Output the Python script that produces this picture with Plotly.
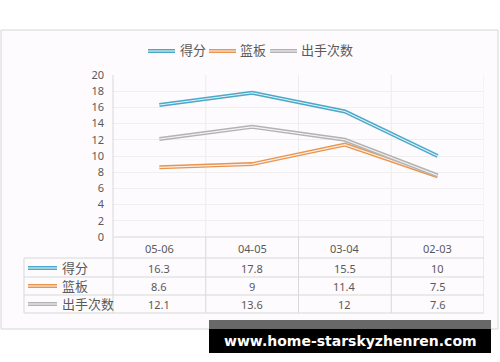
import plotly.graph_objects as go

categories = ["05-06", "04-05", "03-04", "02-03"]
series_names = ["得分", "篮板", "出手次数"]
score = [16.3, 17.8, 15.5, 10]
rebounds = [8.6, 9, 11.4, 7.5]
shots = [12.1, 13.6, 12, 7.6]
y_ticks = list(range(0, 21, 2))

series_values = [score, rebounds, shots]
colors = ["#4aa8c9", "#e8954f", "#b3b3b3"]

W, H = 500, 362
L, R, T, B = 113, 484, 75, 237


def px(x):
    return (x - L) / (R - L)


def py(y):
    return (B - y) / (B - T)


fig = go.Figure()
for name, vals, col in zip(series_names, series_values, colors):
    fig.add_trace(go.Scatter(x=categories, y=vals, mode="lines", name=name,
                             line=dict(color=col, width=4), showlegend=False,
                             hoverinfo="skip"))
    fig.add_trace(go.Scatter(x=categories, y=vals, mode="lines", name=name,
                             line=dict(color="rgba(255,255,255,0.85)", width=1.1),
                             showlegend=False))

shapes = []
annotations = []
FONT = "Noto Sans, Noto Sans CJK SC, sans-serif"
TXT = "#595959"

# outer frame
shapes.append(dict(type="rect", xref="paper", yref="paper", layer="below",
                   x0=px(1), x1=px(498), y0=py(30), y1=py(329),
                   line=dict(color="#d6d6d6", width=1), fillcolor="#fdfbfd"))

# vertical separators in plot area (faint) and table
for i in range(len(categories)):
    xv = i + 0.5
    shapes.append(dict(type="line", xref="x", yref="paper", x0=xv, x1=xv,
                       y0=1, y1=0, line=dict(color="#ececec", width=1), layer="below"))
    shapes.append(dict(type="line", xref="x", yref="paper", x0=xv, x1=xv,
                       y0=0, y1=py(313), line=dict(color="#d9d9d9", width=1)))
shapes.append(dict(type="line", xref="paper", yref="paper", x0=0, x1=0,
                   y0=1, y1=py(313), line=dict(color="#d9d9d9", width=1)))
shapes.append(dict(type="line", xref="paper", yref="paper", x0=px(24), x1=px(24),
                   y0=py(258), y1=py(313), line=dict(color="#d9d9d9", width=1)))
# horizontal table lines
shapes.append(dict(type="line", xref="paper", yref="paper", x0=0, x1=1,
                   y0=0, y1=0, line=dict(color="#d9d9d9", width=1)))
row_lines = [258, 277, 295, 313]
for yl in row_lines:
    shapes.append(dict(type="line", xref="paper", yref="paper", x0=px(24), x1=1,
                       y0=py(yl), y1=py(yl), line=dict(color="#d9d9d9", width=1)))

# header category labels
for c in categories:
    annotations.append(dict(x=c, y=py(248), xref="x", yref="paper", text=c,
                            xanchor="center", yanchor="middle",
                            showarrow=False, font=dict(size=11, color=TXT, family=FONT)))

row_centers = [268, 286, 304]
for name, vals, col, yc in zip(series_names, series_values, colors, row_centers):
    shapes.append(dict(type="line", xref="paper", yref="paper", x0=px(28), x1=px(57),
                       y0=py(yc), y1=py(yc), line=dict(color=col, width=4)))
    shapes.append(dict(type="line", xref="paper", yref="paper", x0=px(28), x1=px(57),
                       y0=py(yc), y1=py(yc), line=dict(color="rgba(255,255,255,0.85)", width=1.1)))
    annotations.append(dict(x=px(60), y=py(yc), xref="paper", yref="paper", text=name,
                            xanchor="left", yanchor="middle", showarrow=False,
                            font=dict(size=13, color=TXT, family=FONT)))
    for c, v in zip(categories, vals):
        annotations.append(dict(x=c, y=py(yc), xref="x", yref="paper", text=str(v),
                                xanchor="center", yanchor="middle",
                                showarrow=False, font=dict(size=11, color=TXT, family=FONT)))

# top legend
leg_x = [(148, 175, 178), (209, 236, 238), (270, 297, 299)]
for name, col, (a, b, t) in zip(series_names, colors, leg_x):
    shapes.append(dict(type="line", xref="paper", yref="paper", x0=px(a), x1=px(b),
                       y0=py(51), y1=py(51), line=dict(color=col, width=4)))
    shapes.append(dict(type="line", xref="paper", yref="paper", x0=px(a), x1=px(b),
                       y0=py(51), y1=py(51), line=dict(color="rgba(255,255,255,0.85)", width=1.1)))
    annotations.append(dict(x=px(t), y=py(50), xref="paper", yref="paper", text=name,
                            xanchor="left", yanchor="middle", showarrow=False,
                            font=dict(size=13, color=TXT, family=FONT)))

# watermark
shapes.append(dict(type="rect", xref="paper", yref="paper", x0=px(209), x1=px(491),
                   y0=py(320), y1=py(329), line=dict(width=0), fillcolor="#686868"))
shapes.append(dict(type="rect", xref="paper", yref="paper", x0=px(209), x1=px(491),
                   y0=py(329), y1=py(353), line=dict(width=0), fillcolor="#000000"))
annotations.append(dict(x=px(350), y=py(341), xref="paper", yref="paper",
                        text="<b>www.home-starskyzhenren.com</b>", showarrow=False,
                        xanchor="center", yanchor="middle",
                        font=dict(size=14, color="#ffffff", family="DejaVu Sans")))

fig.update_layout(
    width=W, height=H,
    margin=dict(l=L, r=W - R, t=T, b=H - B),
    paper_bgcolor="#ffffff", plot_bgcolor="rgba(0,0,0,0)",
    shapes=shapes, annotations=annotations,
    xaxis=dict(type="category", range=[-0.5, len(categories) - 0.5], showticklabels=False,
               showgrid=False, zeroline=False, showline=False, fixedrange=True),
    yaxis=dict(range=[0, 20], tickvals=y_ticks, ticktext=[str(v) for v in y_ticks],
               showgrid=True, gridcolor="#efefef", gridwidth=1, zeroline=False,
               showline=False, ticks="", ticklabelstandoff=8,
               tickfont=dict(size=11, color=TXT, family=FONT)),
    font=dict(family=FONT),
)

fig.write_html("out.html")
